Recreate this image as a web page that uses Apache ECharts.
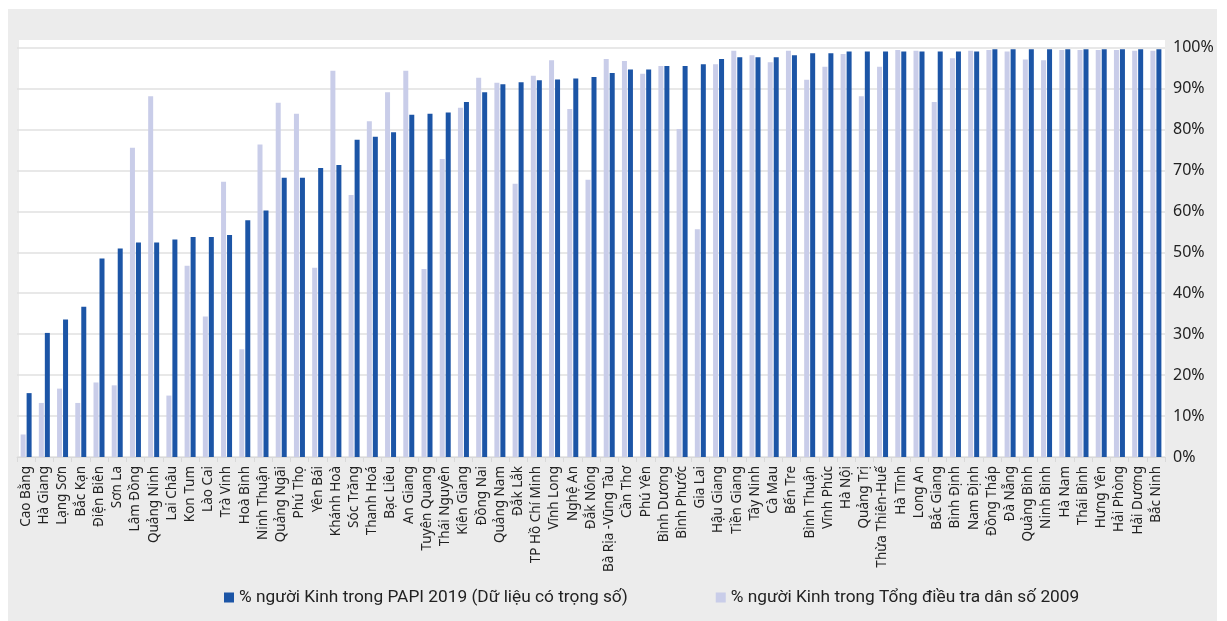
<!DOCTYPE html>
<html>
<head>
<meta charset="utf-8">
<script src="https://cdn.jsdelivr.net/npm/echarts@6/dist/echarts.min.js"></script>
<style>
html,body{margin:0;padding:0;background:#fff;}
#c{width:1227px;height:621px;}
</style>
</head>
<body>
<div id="c"></div>
<script>
const categories = ["Cao Bằng","Hà Giang","Lạng Sơn","Bắc Kạn","Điện Biên","Sơn La","Lâm Đồng","Quảng Ninh","Lai Châu","Kon Tum","Lào Cai","Trà Vinh","Hoà Bình","Ninh Thuận","Quảng Ngãi","Phú Thọ","Yên Bái","Khánh Hoà","Sóc Trăng","Thanh Hoá","Bạc Liêu","An Giang","Tuyên Quang","Thái Nguyên","Kiên Giang","Đồng Nai","Quảng Nam","Đắk Lắk","TP Hồ Chí Minh","Vĩnh Long","Nghệ An","Đắk Nông","Bà Rịa -Vũng Tàu","Cần Thơ","Phú Yên","Bình Dương","Bình Phước","Gia Lai","Hậu Giang","Tiền Giang","Tây Ninh","Cà Mau","Bến Tre","Bình Thuận","Vĩnh Phúc","Hà Nội","Quảng Trị","Thừa Thiên-Huế","Hà Tĩnh","Long An","Bắc Giang","Bình Định","Nam Định","Đồng Tháp","Đà Nẵng","Quảng Bình","Ninh Bình","Hà Nam","Thái Bình","Hưng Yên","Hải Phòng","Hải Dương","Bắc Ninh"];

const census2009 = [5.5,13.2,16.7,13.2,18.2,17.5,75.5,88.1,15.0,46.7,34.3,67.2,26.3,76.3,86.5,83.8,46.2,94.3,64.0,82.0,89.1,94.3,45.9,72.8,85.3,92.6,91.4,66.7,93.1,96.9,85.0,67.7,97.2,96.7,93.6,95.5,80.1,55.6,95.9,99.2,98.1,96.4,99.2,92.1,95.3,98.4,88.1,95.3,99.4,99.2,86.7,97.4,99.2,99.4,99.0,97.1,96.9,99.4,99.4,99.4,99.4,99.2,99.2];

const papi2019 = [15.6,30.3,33.6,36.7,48.5,50.9,52.4,52.4,53.1,53.7,53.7,54.2,57.8,60.2,68.2,68.2,70.6,71.3,77.5,78.2,79.3,83.6,83.8,84.1,86.7,89.1,91.0,91.5,92.0,92.2,92.4,92.8,93.8,94.6,94.6,95.5,95.5,95.9,97.2,97.6,97.6,97.6,98.1,98.6,98.6,99.0,99.0,99.0,99.0,99.0,99.0,99.0,99.0,99.6,99.6,99.6,99.6,99.6,99.6,99.6,99.6,99.6,99.6];

const yTicks = [0,10,20,30,40,50,60,70,80,90,100];

const nameDark = "% người Kinh trong PAPI 2019 (Dữ liệu có trọng số)";
const nameLight = "% người Kinh trong Tổng điều tra dân số 2009";

const chart = echarts.init(document.getElementById('c'), null, {renderer:'canvas'});
chart.setOption({
  backgroundColor: '#ffffff',
  animation: false,
  graphic: [
    {type:'rect', z:-10, silent:true, shape:{x:8,y:9,width:1209,height:612}, style:{fill:'#ececec'}},
    {type:'rect', z:-9, silent:true, shape:{x:19,y:40,width:1146,height:417}, style:{fill:'#ffffff'}}
  ],
  grid: {left:17, right:62, top:47.5, bottom:164, containLabel:false},
  legend: {
    data:[nameDark, nameLight],
    left:219, top:584,
    itemWidth:10, itemHeight:10, itemGap:88,
    icon:'rect',
    textStyle:{fontFamily:'Roboto', fontSize:17.3, color:'#222'}
  },
  xAxis: {
    type:'category',
    data: categories,
    axisLine:{lineStyle:{color:'#d9d9d9', width:1}},
    axisTick:{show:true, length:5, lineStyle:{color:'#d9d9d9'}},
    axisLabel:{rotate:90, interval:0, margin:9, fontFamily:'Noto Sans', fontSize:13.5, color:'#222'}
  },
  yAxis: {
    type:'value', position:'right',
    min:yTicks[0], max:yTicks[yTicks.length-1], interval:10,
    axisLine:{show:false}, axisTick:{show:false},
    splitLine:{lineStyle:{color:'#e0e0e0', width:1.5}},
    axisLabel:{margin:8, fontFamily:'Noto Sans', fontSize:16, color:'#222', formatter: v => v + '%'}
  },
  series: [
    {name:nameLight, type:'bar', data:census2009, barWidth:5, barGap:'20%', itemStyle:{color:'#c9cde9'}},
    {name:nameDark, type:'bar', data:papi2019, barWidth:5, barGap:'20%', itemStyle:{color:'#1c55a6'}}
  ]
});
</script>
</body>
</html>
